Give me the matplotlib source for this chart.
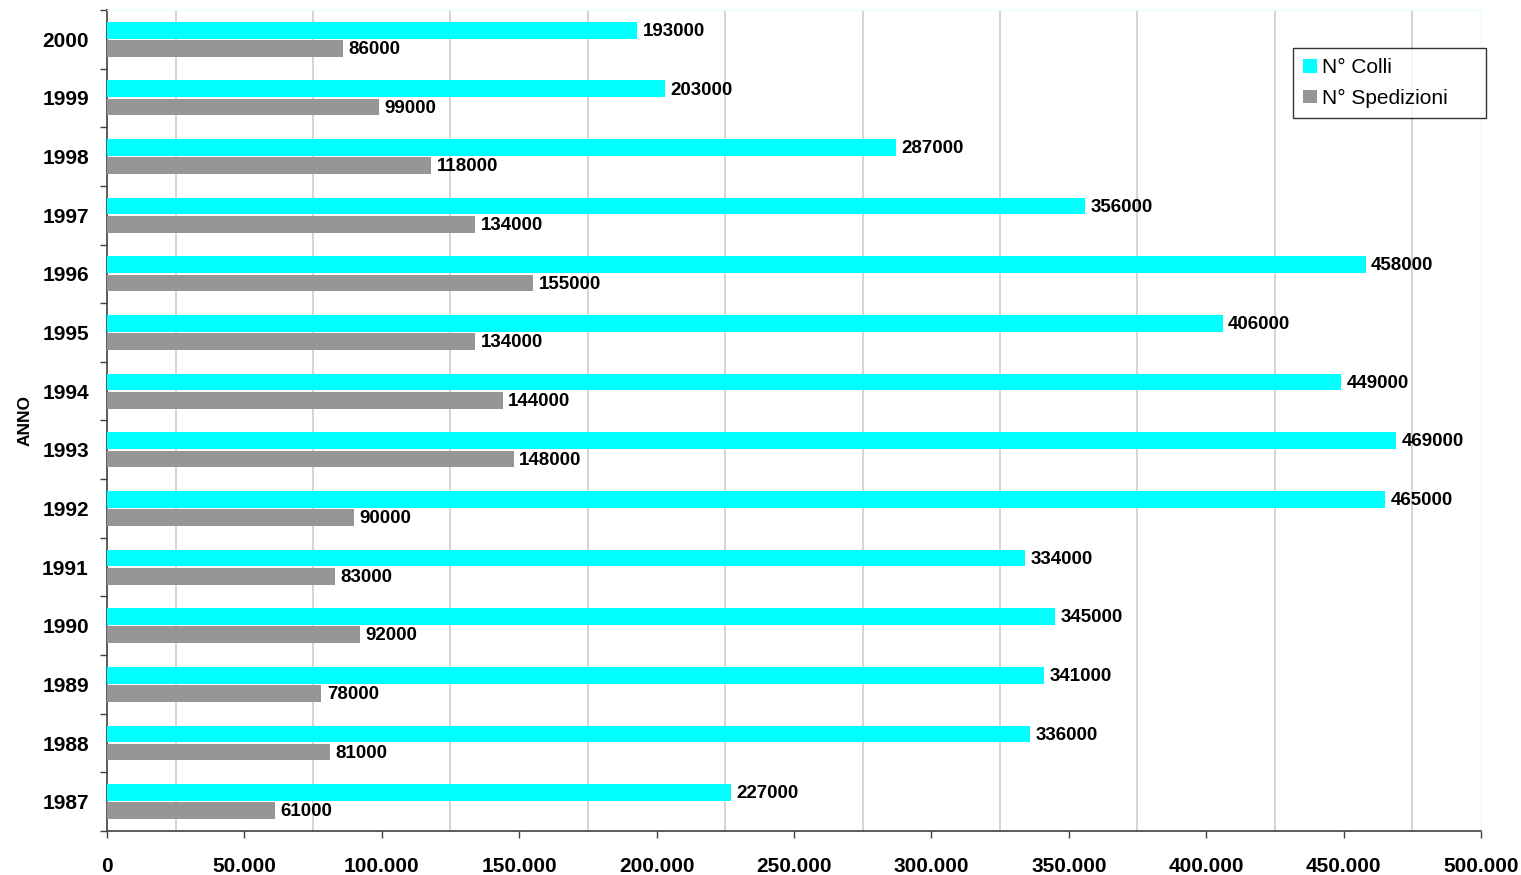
import matplotlib
matplotlib.use("Agg")
import matplotlib.pyplot as plt
from matplotlib.ticker import FuncFormatter
import numpy as np

# Dati
anni = ["1987", "1988", "1989", "1990", "1991", "1992", "1993",
        "1994", "1995", "1996", "1997", "1998", "1999", "2000"]
colli = [227000, 336000, 341000, 345000, 334000, 465000, 469000,
         449000, 406000, 458000, 356000, 287000, 203000, 193000]
spedizioni = [61000, 81000, 78000, 92000, 83000, 90000, 148000,
              144000, 134000, 155000, 134000, 118000, 99000, 86000]

COLORE_COLLI = "#00FFFF"
COLORE_SPED = "#969696"
FONT = "Liberation Sans"

plt.rcParams['font.family'] = [FONT, 'DejaVu Sans']

fig = plt.figure(figsize=(15.21, 8.75), dpi=100)
ax = fig.add_axes([0.0703, 0.0503, 0.9034, 0.9383])

y = np.arange(len(anni))
h = 0.285
b1 = ax.barh(y + 0.155, colli, height=h, color=COLORE_COLLI, label="N° Colli", zorder=3)
b2 = ax.barh(y - 0.155, spedizioni, height=h, color=COLORE_SPED, label="N° Spedizioni", zorder=3)

for barre in (b1, b2):
    for r in barre:
        ax.text(r.get_width() + 2000, r.get_y() + r.get_height() / 2 - 0.02, str(int(r.get_width())),
                va='center', ha='left', fontsize=13.5, fontweight='bold', zorder=4)

ax.set_xlim(0, 500000)
ax.set_ylim(-0.5, len(anni) - 0.5)

ax.set_xticks(np.arange(0, 500001, 50000))
ax.xaxis.set_major_formatter(FuncFormatter(lambda v, p: "0" if v == 0 else f"{int(v):,}".replace(",", ".")))
ax.tick_params(axis='x', direction='out', length=5, width=1, color='#404040', pad=14,
               labelsize=15)
for t in ax.get_xticklabels():
    t.set_fontweight('bold')

# griglia ogni 25.000 (solo linee intermedie)
for g in np.arange(25000, 500000, 50000):
    ax.axvline(g, color='#CDCDCD', linewidth=1.2, zorder=1)

ax.set_yticks(y)
ax.set_yticklabels(anni, fontsize=15, fontweight='bold')
ax.tick_params(axis='y', which='major', length=0, pad=13)
ax.set_yticks(np.arange(-0.5, len(anni), 1), minor=True)
ax.tick_params(axis='y', which='minor', direction='out', length=5, width=1, color='#404040')

ax.set_ylabel("ANNO", fontsize=12.5, fontweight='bold', labelpad=7)

for lato in ('top', 'right'):
    ax.spines[lato].set_color('#DDFFFF')
for lato in ('left', 'bottom'):
    ax.spines[lato].set_color('#404040')
    ax.spines[lato].set_linewidth(1.2)

# legenda: box 1293-1486 x, 48-115 y (pixel)
leg = ax.legend(loc='upper left', mode='expand',
                bbox_to_anchor=(1293 / 1521, 1 - 115 / 875, 193 / 1521, 67 / 875),
                bbox_transform=fig.transFigure,
                fontsize=15, frameon=True, fancybox=False, edgecolor='black',
                handlelength=0.63, handleheight=0.63, handletextpad=0.25,
                borderpad=0.5, labelspacing=0.55, borderaxespad=0)
leg.get_frame().set_linewidth(1)
leg.set_zorder(5)

fig.savefig("out.png", dpi=100)
